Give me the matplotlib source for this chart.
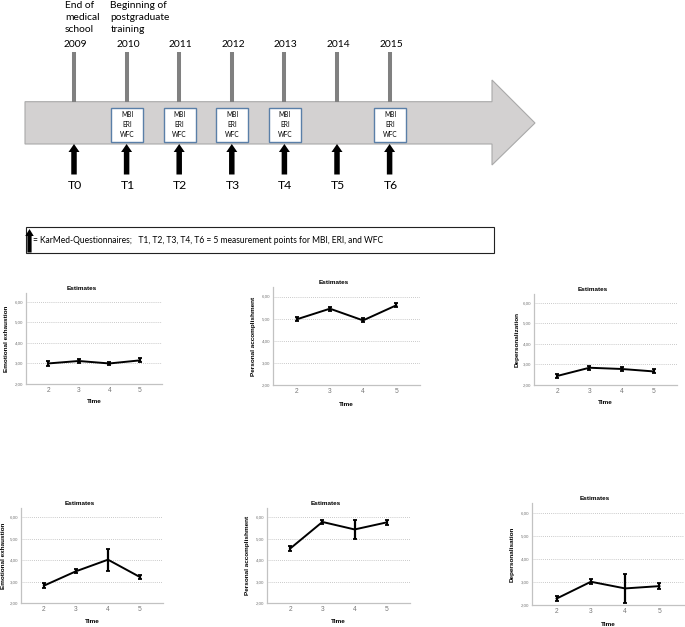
import matplotlib
matplotlib.use('Agg')
import matplotlib.pyplot as plt
from matplotlib.patches import Polygon, Rectangle, FancyArrow

# timeline data
years = [2009, 2010, 2011, 2012, 2013, 2014, 2015]
wave_labels = ['T0', 'T1', 'T2', 'T3', 'T4', 'T5', 'T6']
has_box = [False, True, True, True, True, False, True]
captions = {2009: 'End of\nmedical\nschool', 2010: 'Beginning of\npostgraduate\ntraining'}
box_text = 'MBI\nERI\nWFC'
legend_text = '= KarMed-Questionnaires;   T1, T2, T3, T4, T6 = 5 measurement points for MBI, ERI, and WFC'

# estimates data (time points 2..5)
times = [2, 3, 4, 5]
ytick_vals = [2, 3, 4, 5, 6]
ytick_labels = ['2,00', '3,00', '4,00', '5,00', '6,00']

ee_1 = [3.00, 3.12, 3.00, 3.15]
ee_1_err = [0.10, 0.09, 0.09, 0.10]
pa_1 = [4.97, 5.45, 4.92, 5.60]
pa_1_err = [0.09, 0.09, 0.09, 0.09]
dp_1 = [2.44, 2.84, 2.78, 2.66]
dp_1_err = [0.10, 0.10, 0.09, 0.10]

ee_2 = [2.81, 3.48, 4.02, 3.21]
ee_2_err = [0.11, 0.09, 0.52, 0.10]
pa_2 = [4.54, 5.78, 5.43, 5.76]
pa_2_err = [0.10, 0.08, 0.43, 0.10]
dp_2 = [2.28, 3.01, 2.72, 2.82]
dp_2_err = [0.11, 0.11, 0.64, 0.13]

W, H = 685, 627
fig = plt.figure(figsize=(W / 100, H / 100), dpi=100)

# overlay in pixel coords for the timeline drawing
ax0 = fig.add_axes([0, 0, 1, 1])
ax0.set_xlim(0, W)
ax0.set_ylim(H, 0)
ax0.axis('off')

tl_font = 'Lato'
body_top, body_bot = 101.7, 144.0
ax0.add_patch(Polygon([(25, body_top), (492, body_top), (492, 80), (535, 123),
                       (492, 165), (492, body_bot), (25, body_bot)],
                      closed=True, fc='#d3d1d1', ec='#a9a9a9', lw=0.8))

def tick_x(year):
    return 74 + (year - 2009) * 52.6

for yr, lab, box in zip(years, wave_labels, has_box):
    x = tick_x(yr)
    ax0.vlines(x, 51.7, body_top, color='#808080', lw=2.9)
    ax0.text(x + 1.5, 44.5, str(yr), ha='center', va='center', fontsize=7.4,
             family=tl_font, color='black')
    if box:
        ax0.add_patch(Rectangle((x - 15.5, 107.5), 32, 34.2, fc='white',
                                ec='#5a7fa8', lw=1.0))
        ax0.text(x + 0.5, 124.6, box_text, ha='center', va='center', fontsize=4.7,
                 family=tl_font, linespacing=1.45)
    ax0.add_patch(FancyArrow(x, 174.5, 0, -30.5, width=5.5, head_width=11,
                             head_length=8, length_includes_head=True,
                             color='black', lw=0))
    ax0.text(x + 1, 185.5, lab, ha='center', va='center', fontsize=8.8,
             family=tl_font)

ax0.text(65, 17.5, captions[2009], ha='left', va='center', fontsize=7.4,
         family=tl_font, linespacing=1.42)
ax0.text(110.5, 17.5, captions[2010], ha='left', va='center', fontsize=7.4,
         family=tl_font, linespacing=1.42)

# legend box
ax0.add_patch(Rectangle((25.7, 227.3), 468.6, 25.4, fc='white', ec='#222222', lw=0.8))
ax0.add_patch(FancyArrow(29.5, 252.5, 0, -23.5, width=4.2, head_width=8.5,
                         head_length=7, length_includes_head=True,
                         color='black', lw=0))
ax0.text(33, 240.7, legend_text, ha='left', va='center', fontsize=6.15,
         family=tl_font)

# estimate panels: (left, top, right, bottom) in pixels
panels = [
    ((26, 293, 162, 384), ee_1, ee_1_err, 'Emotional exhaustion', 7, 81.7, 401.7),
    ((273, 287, 420, 385), pa_1, pa_1_err, 'Personal accomplishment', 254, 333.3, 404),
    ((534, 294, 677, 385), dp_1, dp_1_err, 'Depersonalization', 516.7, 593, 402.7),
    ((21, 508, 163, 603), ee_2, ee_2_err, 'Emotional exhaustion', 3.5, 80, 621.7),
    ((267, 508, 410, 603), pa_2, pa_2_err, 'Personal accomplishment', 247, 325.7, 621.7),
    ((532, 503, 684, 605), dp_2, dp_2_err, 'Depersonalisation', 511.7, 595, 624),
]

spss_font = 'Liberation Sans'
for (l, t, r, b), vals, errs, ylab, ylab_x, title_x, xlab_y in panels:
    ax = fig.add_axes([l / W, 1 - b / H, (r - l) / W, (b - t) / H])
    ax.errorbar(times, vals, yerr=errs, color='black', lw=1.4, elinewidth=1.6,
                capsize=1.2, capthick=1.3, zorder=3)
    ax.set_xlim(1.28, 5.72)
    ax.set_ylim(2, 6.43)
    ax.set_xticks(times)
    ax.set_xticklabels([str(v) for v in times], fontsize=4.8, family=spss_font,
                       color='#777777')
    ax.set_yticks(ytick_vals)
    ax.set_yticklabels(ytick_labels, fontsize=3.2, family=spss_font,
                       color='#777777')
    ax.tick_params(length=0)
    ax.tick_params(axis='x', pad=2.2)
    ax.tick_params(axis='y', pad=2.0)
    ax.yaxis.grid(True, ls=(0, (1, 1.5)), color='#b8b8b8', lw=0.6)
    ax.set_axisbelow(True)
    for s in ['top', 'right']:
        ax.spines[s].set_visible(False)
    for s in ['left', 'bottom']:
        ax.spines[s].set_color('#c2c2c2')
        ax.spines[s].set_linewidth(0.9)
    ax.set_title('Estimates', fontsize=4.6, fontweight='bold', family=spss_font,
                 x=(title_x - l) / (r - l), pad=2.0)
    ax.set_ylabel(ylab, fontsize=4.6, fontweight='bold', family=spss_font)
    ax.yaxis.label.set_va('center')
    ax.yaxis.set_label_coords((ylab_x - l) / (r - l), 0.5)
    ax.set_xlabel('Time', fontsize=4.6, fontweight='bold', family=spss_font)
    ax.xaxis.label.set_va('center')
    ax.xaxis.set_label_coords(0.5, -(xlab_y - b) / (b - t))

fig.savefig('out.png', dpi=100)
